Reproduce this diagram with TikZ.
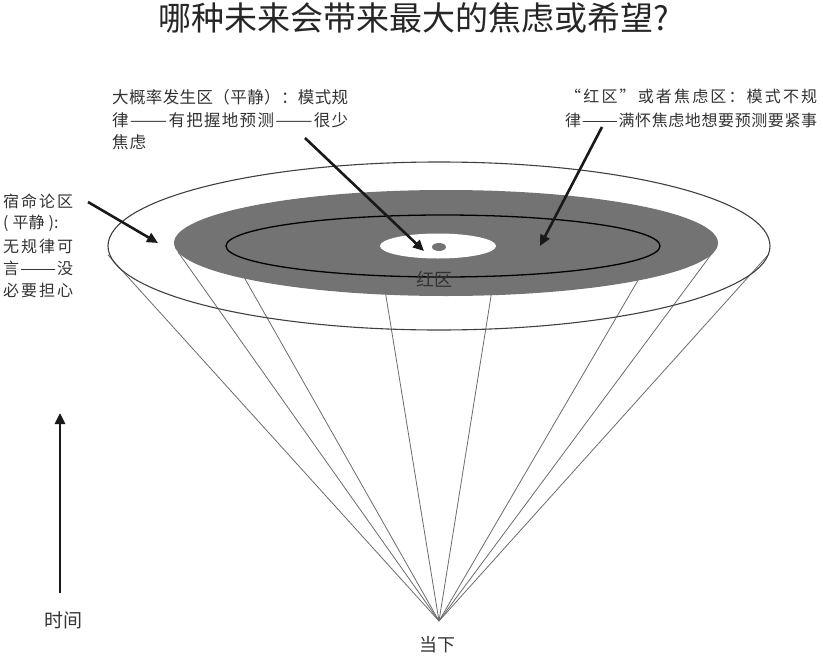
\documentclass[tikz,border=0pt]{standalone}
\usepackage{fontspec}
\usepackage{graphicx}
\setmainfont{Noto Sans CJK SC}
\usetikzlibrary{arrows.meta}
\def\spreadend{\spreadend}
\def\spreadloop#1{\ifx\spreadend#1\else#1\hfil\expandafter\spreadloop\fi}
\newcommand\spread[2]{\makebox[#1][s]{\spreadloop#2\spreadend\unskip}}
\newcommand\dd{\scalebox{1.35}[1]{——}}
\definecolor{txt}{HTML}{333333}
\definecolor{zone}{HTML}{737373}
\begin{document}
\begin{tikzpicture}[x=1pt,y=-1pt,
  conel/.style={draw=black!58, line width=0.8pt},
  rim/.style={draw=black!75, line width=1.1pt},
  bigarrow/.style={draw=black!90, line width=2.6pt, -{Triangle[length=11pt,width=10pt]}},
  lbl/.style={inner sep=0pt, text=txt, font=\fontsize{16}{19}\selectfont},
  ln/.style={lbl, anchor=west}]
\useasboundingbox (0,0) rectangle (823,656);
% apex and cone rim points
\coordinate (apex) at (439,621);
\coordinate (c1) at (108,255);
\coordinate (c2) at (178,252);
\coordinate (c3) at (240,270);
\coordinate (c4) at (385,290);
\coordinate (c5) at (492,290);
\coordinate (c6) at (644,270);
\coordinate (c7) at (713,252);
\coordinate (c8) at (768,255);
\foreach \c in {c1,c2,c3,c4,c5,c6,c7,c8} \draw[conel] (apex) -- (\c);
% outer rim
\draw[rim] (439,246) ellipse [x radius=331pt, y radius=84pt];
% grey zone
\fill[zone] (446,243) ellipse [x radius=272pt, y radius=53pt];
\draw[black, line width=1.3pt] (443,246) ellipse [x radius=217pt, y radius=31pt];
\fill[white] (438,246) ellipse [x radius=58pt, y radius=12.5pt];
\fill[zone] (439,247) ellipse [x radius=7pt, y radius=4pt];
% labels
\node[lbl, font=\fontsize{33}{36}\selectfont, text=black!85] (title) at (413.5,18) {哪种未来会带来最大的焦虑或希望?};
\node[lbl, font=\fontsize{18}{20}\selectfont] (red) at (434,279) {红区};
\node[lbl, font=\fontsize{18}{20}\selectfont] (now) at (437,645) {当下};
\node[lbl, font=\fontsize{19}{21}\selectfont] (time) at (63,620) {时间};
% middle text
\node[ln, font=\fontsize{16.5}{19}\selectfont] (m1) at (112,97) {\spread{236pt}{大概率发生区（平静）：模式规}};
\node[ln, font=\fontsize{16.5}{19}\selectfont] (m2) at (112,120) {\spread{236pt}{律{\dd}有把握地预测{\dd}很少}};
\node[ln, font=\fontsize{16.5}{19}\selectfont] (m3) at (112,142) {\spread{34pt}{焦虑}};
% right text
\node[ln] (r1) at (565,96) {\spread{252pt}{“红区”或者焦虑区：模式不规}};
\node[ln] (r2) at (565,120) {\spread{252pt}{律{\dd}满怀焦虑地想要预测要紧事}};
% left text
\node[ln] (l1) at (3,201) {\spread{70pt}{宿命论区}};
\node[ln] (l2) at (3,223) {(\hspace{4pt}平静\hspace{4pt}):};
\node[ln] (l3) at (3,246) {\spread{70pt}{无规律可}};
\node[ln] (l4) at (3,268) {\spread{70pt}{言{\dd}没}};
\node[ln] (l5) at (3,290) {\spread{70pt}{必要担心}};
% arrows
\coordinate (a1s) at (88,202);
\coordinate (a1e) at (158,243);
\coordinate (a2s) at (305,138);
\coordinate (a2e) at (424,251);
\coordinate (a3s) at (602,127);
\coordinate (a3e) at (540,246);
\coordinate (ts) at (60,593);
\coordinate (te) at (60,413);
\draw[bigarrow] (a1s) -- (a1e);
\draw[bigarrow] (a2s) -- (a2e);
\draw[bigarrow] (a3s) -- (a3e);
\draw[bigarrow] (ts) -- (te);
\end{tikzpicture}
\end{document}
